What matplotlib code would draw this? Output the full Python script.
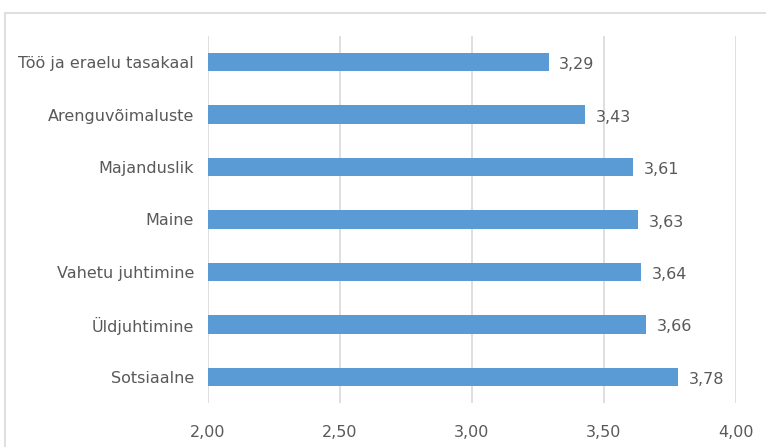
import matplotlib.pyplot as plt
from matplotlib.patches import Rectangle

# Data (top to bottom as shown)
categories = ['Töö ja eraelu tasakaal', 'Arenguvõimaluste', 'Majanduslik', 'Maine',
              'Vahetu juhtimine', 'Üldjuhtimine', 'Sotsiaalne']
values = [3.29, 3.43, 3.61, 3.63, 3.64, 3.66, 3.78]
xticks = [2.0, 2.5, 3.0, 3.5, 4.0]

plt.rcParams['font.family'] = ['Liberation Sans Narrow', 'DejaVu Sans']
text_color = '#595959'
bar_color = '#5b9bd5'

fig = plt.figure(figsize=(7.66, 4.47), dpi=100)
ax = fig.add_axes([0.2715, 0.0984, 0.6893, 0.8211])

ypos = list(range(len(categories)))[::-1]
ax.barh(ypos, [v - 2.0 for v in values], left=2.0, height=0.35, color=bar_color, zorder=3)
for y, v in zip(ypos, values):
    ax.text(v + 0.04, y - 0.05, f'{v:.2f}'.replace('.', ','), va='center', ha='left',
            fontsize=11.5, color=text_color)

ax.set_xlim(2.0, 4.0)
ax.set_ylim(-0.5, 6.5)
ax.set_yticks(ypos)
ax.set_yticklabels(categories, fontsize=11.5, color=text_color)
ax.set_xticks(xticks)
ax.set_xticklabels([f'{t:.2f}'.replace('.', ',') for t in xticks], fontsize=11.5, color=text_color)
ax.tick_params(axis='y', length=0, pad=10)
ax.tick_params(axis='x', length=0, pad=16)
ax.grid(axis='x', color='#d9d9d9', linewidth=1.2, zorder=0)
for s in ax.spines.values():
    s.set_visible(False)

# outer chart border
fig.patches.append(Rectangle((5 / 766, -0.1), 1.0, 1 - 13 / 447 + 0.1, transform=fig.transFigure,
                             fill=False, edgecolor='#d9d9d9', linewidth=1.2, clip_on=False))

fig.savefig('out.png', dpi=100)
